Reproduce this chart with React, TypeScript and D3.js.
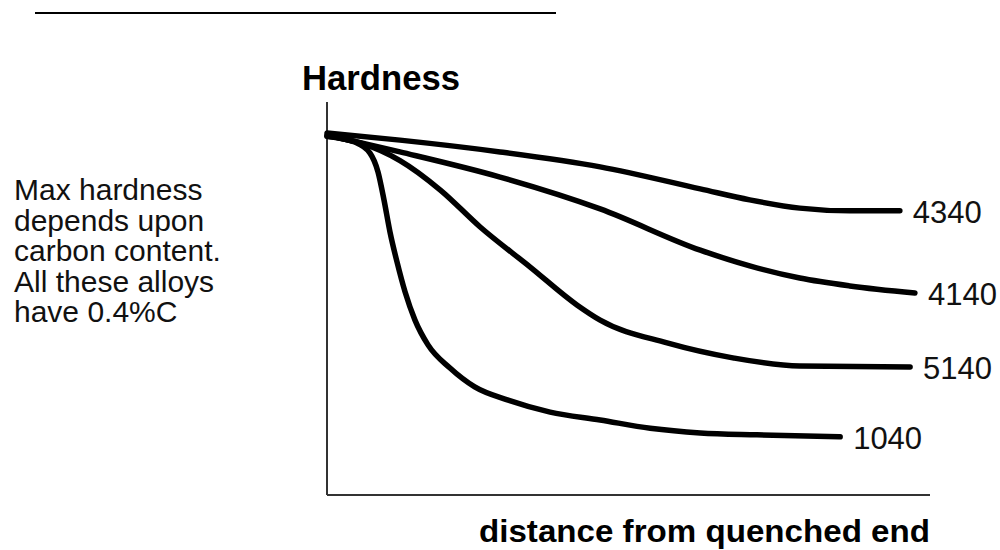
import React from "react";
import * as d3 from "d3";

// distance from quenched end (arbitrary units) and hardness (arbitrary units)
const alloys = ["4340", "4140", "5140", "1040"];

const dist4340 = [0, 12.1, 28.7, 45.3, 61.9, 70.1, 78.4, 86.7, 95.0];
const hard4340 = [92.1, 90.3, 87.3, 83.5, 77.9, 75.1, 73.0, 72.3, 72.3];

const dist4140 = [0, 12.1, 28.7, 45.3, 61.9, 70.1, 78.4, 86.7, 97.5];
const hard4140 = [91.6, 87.3, 80.9, 72.8, 62.3, 58.3, 55.2, 53.2, 51.4];

const dist5140 = [0, 5.5, 12.1, 18.8, 25.4, 33.7, 41.5, 45.3, 56.4, 67.3, 78.4, 96.7];
const hard5140 = [91.3, 89.6, 85.1, 77.6, 68.2, 58.0, 48.3, 44.5, 38.7, 34.9, 32.8, 32.6];

const dist1040 = [0, 4.6, 7.13, 8.46, 9.45, 10.45, 11.61, 12.94, 14.59, 16.75, 20.4, 24.5, 29.9, 37.0, 45.3, 53.6, 61.9, 71.3, 85.1];
const hard1040 = [91.3, 89.8, 87.0, 82.2, 75.1, 66.9, 59.3, 51.7, 44.5, 38.2, 32.3, 27.5, 24.2, 21.1, 19.1, 17.0, 15.8, 15.3, 14.8];

const noteLines = [
  "Max hardness",
  "depends upon",
  "carbon content.",
  "All these alloys",
  "have 0.4%C",
];

const yTitle = "Hardness";
const xTitle = "distance from quenched end";

const seriesDist = [dist4340, dist4140, dist5140, dist1040];
const seriesHard = [hard4340, hard4140, hard5140, hard1040];

export default function App() {
  const W = 1000;
  const H = 550;
  const x = d3.scaleLinear().domain([0, 100]).range([327, 930]);
  const y = d3.scaleLinear().domain([0, 100]).range([495, 102]);

  const line = d3
    .line<[number, number]>()
    .x((d) => x(d[0]))
    .y((d) => y(d[1]))
    .curve(d3.curveMonotoneX);

  const font = "'Liberation Sans', Arial, sans-serif";

  return (
    <svg
      width={W}
      height={H}
      viewBox={`0 0 ${W} ${H}`}
      style={{ position: "absolute", left: 0, top: 0, background: "#fff" }}
    >
      <rect x={0} y={0} width={W} height={H} fill="#fff" />
      {/* top rule */}
      <line x1={35} x2={556} y1={13} y2={13} stroke="#000" strokeWidth={2} />

      {/* axes */}
      <line x1={x(0)} x2={x(0)} y1={y(100)} y2={y(0)} stroke="#333" strokeWidth={2} />
      <line x1={x(0)} x2={x(100)} y1={y(0)} y2={y(0)} stroke="#333" strokeWidth={2} />

      {/* titles */}
      <text
        x={302}
        y={90}
        fontFamily={font}
        fontSize={35}
        fontWeight="bold"
        fill="#000"
        textLength={158}
        lengthAdjust="spacingAndGlyphs"
      >
        {yTitle}
      </text>
      <text
        x={479}
        y={542}
        fontFamily={font}
        fontSize={32}
        fontWeight="bold"
        fill="#000"
        textLength={451}
        lengthAdjust="spacingAndGlyphs"
      >
        {xTitle}
      </text>

      {/* note */}
      {noteLines.map((t, i) => (
        <text
          key={i}
          x={14}
          y={200 + i * 30.5}
          fontFamily={font}
          fontSize={30}
          fill="#111"
        >
          {t}
        </text>
      ))}

      {/* curves */}
      {seriesDist.map((ds, i) => {
        const pts: [number, number][] = ds.map((d, j) => [d, seriesHard[i][j]]);
        const last = pts[pts.length - 1];
        return (
          <g key={alloys[i]}>
            <path
              d={line(pts) || ""}
              fill="none"
              stroke="#000"
              strokeWidth={5.5}
              strokeLinecap="round"
              strokeLinejoin="round"
            />
            <text
              x={x(last[0]) + 13}
              y={y(last[1]) + 4}
              dominantBaseline="middle"
              fontFamily={font}
              fontSize={31}
              fill="#111"
            >
              {alloys[i]}
            </text>
          </g>
        );
      })}
    </svg>
  );
}
